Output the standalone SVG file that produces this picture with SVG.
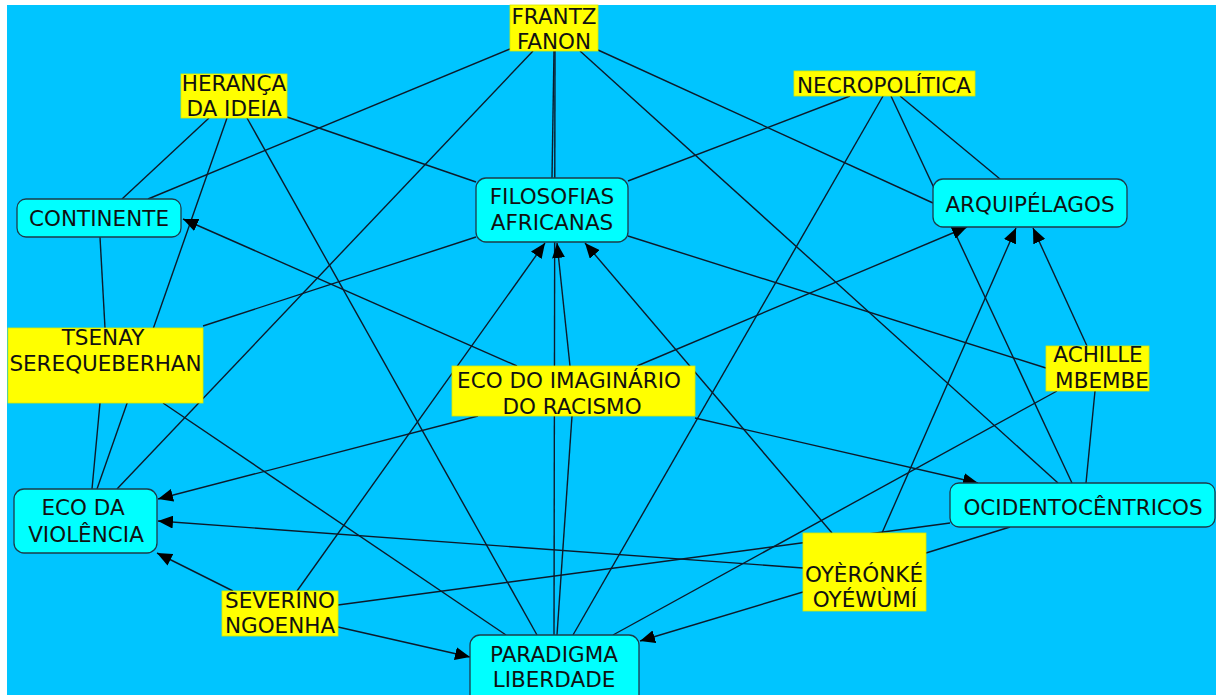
<svg xmlns="http://www.w3.org/2000/svg" width="1216" height="695" viewBox="0 0 1216 695">
<style>
.c{fill:#00FFFF;stroke:#1d3b4a;stroke-width:1.3}
.y{fill:#FFFF00;stroke:#d8e800;stroke-width:0.8}
.t{font-family:"DejaVu Sans",Verdana,sans-serif;font-size:21.5px;fill:#111;text-anchor:middle}
.l{stroke:#0c1a2a;stroke-width:1.4;fill:none}
.a{marker-end:url(#ah)}
</style>
<defs>
<marker id="ah" markerUnits="userSpaceOnUse" markerWidth="15" markerHeight="13" refX="15" refY="6.5" orient="auto">
<path d="M0,0 L15,6.5 L0,13 z" fill="#000"/>
</marker>
</defs>
<rect x="0" y="0" width="1216" height="695" fill="#ffffff"/>
<rect x="7" y="5" width="1209" height="690" fill="#00C5FF"/>
<g id="connectors">
<line class="l" x1="510" y1="49" x2="148" y2="199"/>
<line class="l" x1="533" y1="51" x2="117" y2="489"/>
<line class="l" x1="554" y1="51" x2="552" y2="178"/>
<line class="l" x1="555" y1="51" x2="554" y2="635"/>
<line class="l" x1="580" y1="51" x2="1058" y2="483"/>
<line class="l" x1="598" y1="50" x2="933" y2="203"/>
<line class="l" x1="209" y1="118" x2="122" y2="199"/>
<line class="l" x1="227" y1="118" x2="97" y2="489"/>
<line class="l" x1="247" y1="118" x2="537" y2="635"/>
<line class="l" x1="287" y1="117" x2="476" y2="182"/>
<line class="l" x1="850" y1="96" x2="628" y2="181"/>
<line class="l" x1="883" y1="96" x2="573" y2="635"/>
<line class="l" x1="891" y1="96" x2="1072" y2="483"/>
<line class="l" x1="900" y1="96" x2="1000" y2="179"/>
<line class="l" x1="100" y1="237" x2="105" y2="328"/>
<line class="l" x1="100" y1="403" x2="92" y2="489"/>
<line class="l" x1="203" y1="326" x2="476" y2="237"/>
<line class="l" x1="163" y1="403" x2="506" y2="635"/>
<line class="l" x1="628" y1="236" x2="1046" y2="368"/>
<line class="l" x1="1057" y1="391" x2="613" y2="635"/>
<line class="l" x1="1095" y1="391" x2="1086" y2="483"/>
<line class="l" x1="557" y1="635" x2="572" y2="416"/>
<line class="l" x1="338" y1="605" x2="950" y2="523"/>
<line class="l" x1="1010" y1="527" x2="926" y2="553"/>
<line class="l a" x1="570" y1="366" x2="557" y2="243"/>
<line class="l a" x1="297" y1="591" x2="545" y2="243"/>
<line class="l a" x1="832" y1="533" x2="585" y2="243"/>
<line class="l a" x1="637" y1="366" x2="967" y2="227"/>
<line class="l a" x1="882" y1="533" x2="1016" y2="228"/>
<line class="l a" x1="1087" y1="346" x2="1033" y2="228"/>
<line class="l a" x1="517" y1="366" x2="183" y2="219"/>
<line class="l a" x1="478" y1="416" x2="158" y2="499"/>
<line class="l a" x1="803" y1="568" x2="158" y2="521"/>
<line class="l a" x1="233" y1="591" x2="157" y2="553"/>
<line class="l a" x1="695" y1="418" x2="978" y2="483"/>
<line class="l a" x1="338" y1="627" x2="470" y2="657"/>
<line class="l a" x1="803" y1="592" x2="640" y2="641"/>
</g>
<g id="frantz-fanon"><rect class="y" x="510" y="5" width="88" height="46"/><text class="t" x="554" y="24">FRANTZ</text><text class="t" x="554" y="49">FANON</text></g>
<g id="heranca-da-ideia"><rect class="y" x="181" y="74" width="106" height="44"/><text class="t" x="234" y="91">HERANÇA</text><text class="t" x="234" y="116">DA IDEIA</text></g>
<g id="necropolitica"><rect class="y" x="794" y="71" width="181" height="25"/><text class="t" x="884" y="93">NECROPOLÍTICA</text></g>
<g id="continente"><rect class="c" x="17" y="199" width="164" height="38" rx="9"/><text class="t" x="99" y="226">CONTINENTE</text></g>
<g id="filosofias-africanas"><rect class="c" x="476" y="178" width="152" height="64" rx="10"/><text class="t" x="552" y="204">FILOSOFIAS</text><text class="t" x="552" y="230">AFRICANAS</text></g>
<g id="arquipelagos"><rect class="c" x="933" y="179" width="194" height="48" rx="10"/><text class="t" x="1030" y="212">ARQUIPÉLAGOS</text></g>
<g id="tsenay-serequeberhan"><rect class="y" x="8" y="328" width="195" height="75"/><text class="t" x="103" y="345">TSENAY</text><text class="t" x="105.5" y="371">SEREQUEBERHAN</text></g>
<g id="eco-do-imaginario"><rect class="y" x="452" y="366" width="243" height="50"/><text class="t" x="569" y="388">ECO DO IMAGINÁRIO</text><text class="t" x="572" y="414">DO RACISMO</text></g>
<g id="achille-mbembe"><rect class="y" x="1046" y="346" width="103" height="45"/><text class="t" x="1098" y="362">ACHILLE</text><text class="t" x="1102" y="388">MBEMBE</text></g>
<g id="eco-da-violencia"><rect class="c" x="14" y="489" width="143" height="64" rx="10"/><text class="t" x="83" y="515">ECO DA</text><text class="t" x="86" y="542">VIOLÊNCIA</text></g>
<g id="ocidentocentricos"><rect class="c" x="950" y="483" width="265" height="44" rx="9"/><text class="t" x="1083" y="515">OCIDENTOCÊNTRICOS</text></g>
<g id="oyeronke-oyewumi"><rect class="y" x="803" y="533" width="123" height="78"/><text class="t" x="864" y="582">OYÈRÓNKÉ</text><text class="t" x="865" y="607">OYÉWÙMÍ</text></g>
<g id="severino-ngoenha"><rect class="y" x="222" y="591" width="116" height="45"/><text class="t" x="280" y="608">SEVERINO</text><text class="t" x="280" y="633">NGOENHA</text></g>
<g id="paradigma-liberdade"><rect class="c" x="470" y="635" width="169" height="72" rx="10"/><text class="t" x="554" y="662">PARADIGMA</text><text class="t" x="554" y="687">LIBERDADE</text></g>
</svg>
